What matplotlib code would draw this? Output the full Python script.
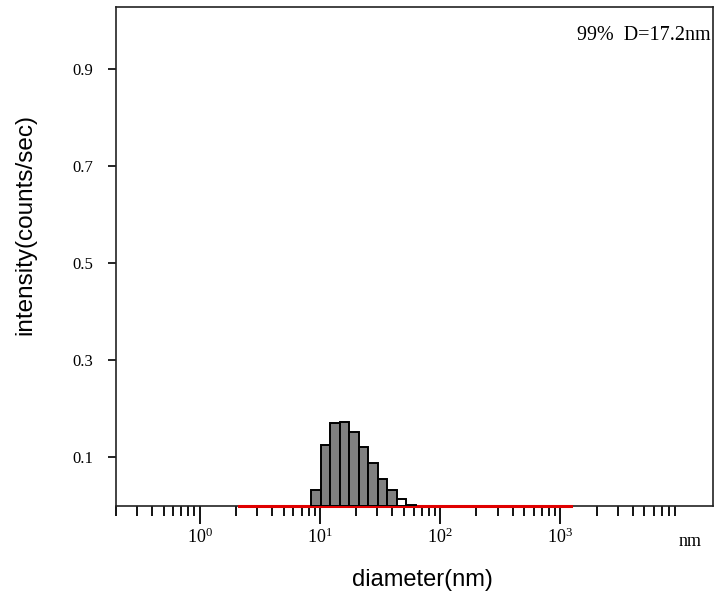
import numpy as np
import matplotlib
matplotlib.use("Agg")
import matplotlib.pyplot as plt
from matplotlib.ticker import LogLocator, LogFormatterMathtext, NullFormatter

# size distribution (log-spaced bins, nm)
bin_edges = [8.4, 10.1, 12.1, 14.5, 17.4, 20.9, 25.1, 30.1, 36.1, 43.3, 52.0, 62.5]
intensity = [0.032, 0.125, 0.170, 0.173, 0.151, 0.121, 0.087, 0.055, 0.032, 0.013, 0.002]
bar_colors = ["#808080"] * 9 + ["white", "black"]

fit_range = [2.1, 1230]          # red baseline
y_ticks = [0.1, 0.3, 0.5, 0.7, 0.9]
x_ticks = [1, 10, 100, 1000]
x_lim = [0.2, 18600]
y_lim = [0, 1.028]
note = "99%  D=17.2nm"

plt.rcParams["font.family"] = ["Liberation Serif", "DejaVu Serif"]
plt.rcParams["mathtext.fontset"] = "stix"

fig = plt.figure(figsize=(7.17, 6.0), dpi=100)
ax = fig.add_axes([0.1618, 0.1575, 0.8326, 0.8308])

left = np.array(bin_edges[:-1])
widths = np.diff(bin_edges)
ax.bar(left, intensity, width=widths, align="edge", color=bar_colors,
       edgecolor="black", linewidth=1.4, zorder=4)
ax.plot(fit_range, [0, 0], color="#e00000", linewidth=2.2, zorder=3, clip_on=False)

ax.set_xscale("log")
ax.set_xlim(x_lim)
ax.set_ylim(y_lim)

ax.set_xticks(x_ticks)
ax.xaxis.set_major_formatter(LogFormatterMathtext())
ax.xaxis.set_minor_locator(LogLocator(base=10, subs=np.arange(2, 10), numticks=10))
ax.xaxis.set_minor_formatter(NullFormatter())
ax.tick_params(axis="x", which="major", direction="out", length=13, width=1.3,
               pad=3, labelsize=13)
ax.tick_params(axis="x", which="minor", direction="out", length=7, width=1.3)

ax.set_yticks(y_ticks)
ax.set_yticklabels([f"{v:.1f}" for v in y_ticks])
ax.tick_params(axis="y", direction="out", length=5.5, width=1.2, pad=11, labelsize=12)

for s in ax.spines.values():
    s.set_linewidth(1.2)
    s.set_color("#222222")

ax.set_ylabel("intensity(counts/sec)", family=["Liberation Sans", "DejaVu Sans"],
              fontsize=17.5)
ax.yaxis.set_label_coords(-0.133, 0.563)
ax.set_xlabel("diameter(nm)", family=["Liberation Sans", "DejaVu Sans"],
              fontsize=17)
ax.xaxis.set_label_coords(0.513, -0.127)

ax.text(0.996, 0.943, note, transform=ax.transAxes, ha="right", va="center",
        fontsize=14.5)
ax.text(0.961, -0.072, "nm", transform=ax.transAxes, ha="center", va="center",
        fontsize=13)

fig.savefig("out.png", dpi=100)
